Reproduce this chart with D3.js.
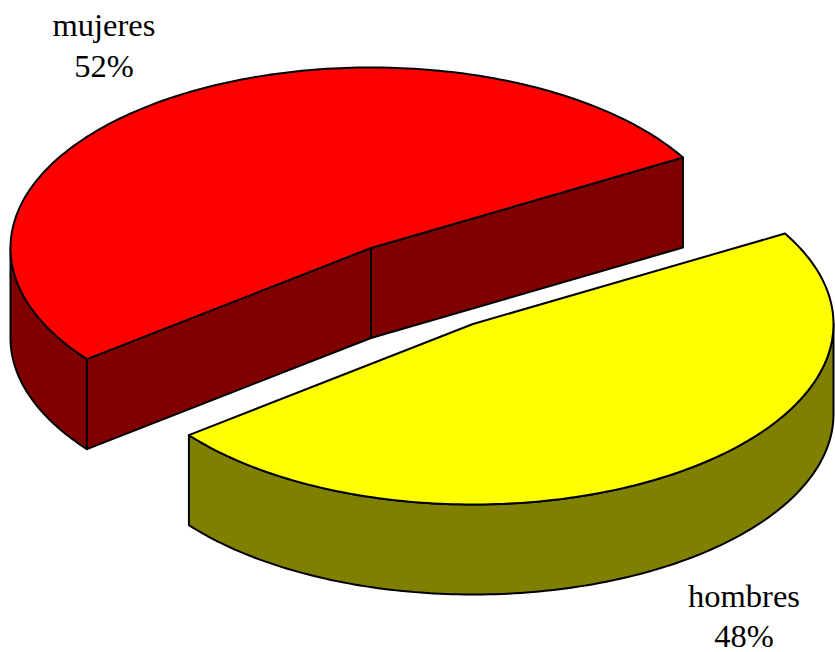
<!DOCTYPE html>
<html><head><meta charset="utf-8">
<script src="https://cdn.jsdelivr.net/npm/d3@7"></script>
<style>html,body{margin:0;padding:0;background:#fff}svg{display:block}text{font-family:"Liberation Serif",serif;font-size:32.5px;fill:#000;text-anchor:middle}</style>
</head><body><svg id="c" width="835" height="652"></svg>
<script>
const categories = ["mujeres","hombres"];
const values = [52.2,47.8];
const percentLabels = ["52%","48%"];
const topColors = ["#ff0000","#ffff00"];
const sideColors = ["#800000","#808000"];

const W=835,H=652, rx=360.5, ry=180.5, depth=90;
const centers=[[371,248],[473,324]];
const labelPos=[[104,36,77],[744,607,647]];
const svg=d3.select("#c");
const rad=d3.scaleLinear().domain([0,1]).range([0,1]);
const deg=Math.PI/180;
const arcs=d3.pie().sort(null).startAngle(-128*deg).endAngle(232*deg)(values);
const curve=d3.line().curve(d3.curveLinear);
const pt=(c,a,d=0,r=1)=>[c[0]+rx*rad(r)*Math.sin(a),c[1]-ry*rad(r)*Math.cos(a)+d];
function sample(a0,a1,c,d=0){const n=Math.max(2,Math.ceil(Math.abs(a1-a0)/deg));
  return d3.range(n+1).map(i=>pt(c,a0+(a1-a0)*i/n,d));}
function style(s,fill){return s.attr("fill",fill).attr("stroke","#000").attr("stroke-width",2).attr("stroke-linejoin","round");}
function quad(p,q){return [p,q,[q[0],q[1]+depth],[p[0],p[1]+depth]];}

arcs.forEach((d,i)=>{
  const c=centers[i], g=svg.append("g");
  const a0=d.startAngle,a1=d.endAngle;
  const v0=Math.max(a0,Math.PI/2), v1=Math.min(a1,3*Math.PI/2);
  const wallRanges = a0<-Math.PI/2 ? [[a0+2*Math.PI,3*Math.PI/2]] : [[v0,v1]];
  wallRanges.forEach(([s,e])=>{
    const top=sample(s,e,c), bot=sample(s,e,c,depth).reverse();
    style(g.append("path").attr("d",curve(top.concat(bot))+"Z"),sideColors[i]);
  });
  if(i===0){
    const p0=pt(c,a0),p1=pt(c,a1);
    style(g.append("path").attr("d",curve(quad(p0,c))+"Z"),sideColors[i]);
    style(g.append("path").attr("d",curve(quad(c,p1))+"Z"),sideColors[i]);
  }
  const pts=[c].concat(sample(a0,a1,c));
  style(g.append("path").attr("d",curve(pts)+"Z"),topColors[i]);
  const [lx,y1,y2]=labelPos[i];
  g.append("text").attr("x",lx).attr("y",y1).text(categories[i]);
  g.append("text").attr("x",lx).attr("y",y2).text(percentLabels[i]);
});
</script></body></html>
